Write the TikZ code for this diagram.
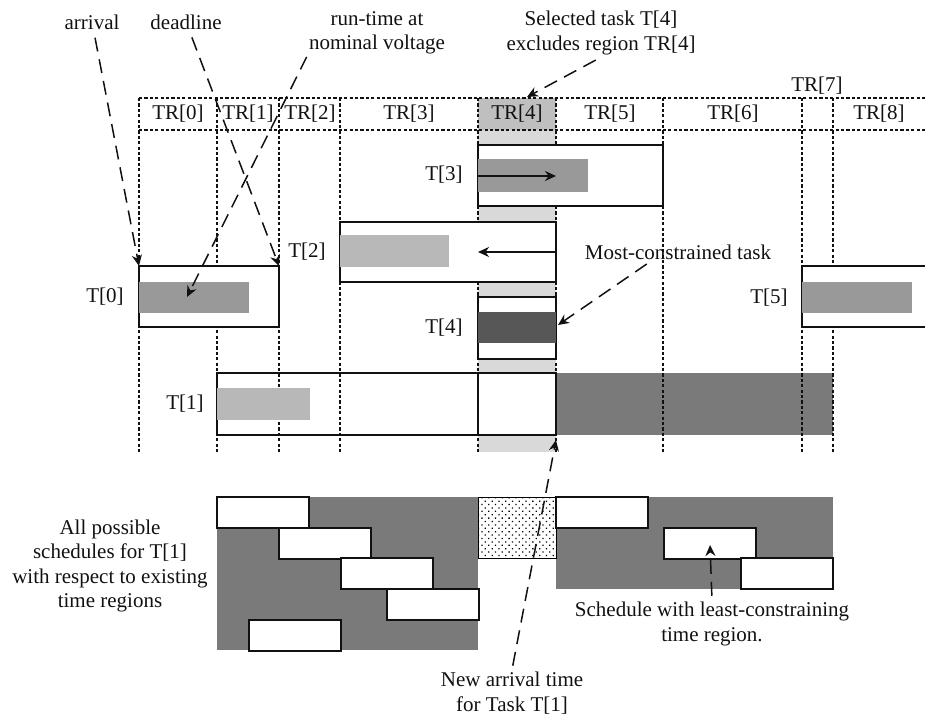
\documentclass[tikz,border=0pt]{standalone}
\usepackage{fontspec}
\setmainfont{Liberation Serif}
\usepackage{tikz}
\usetikzlibrary{positioning,arrows.meta,patterns,patterns.meta}

\definecolor{ink}{HTML}{111111}
\colorlet{barfill}{black!40}
\colorlet{lightbar}{black!28}
\colorlet{busyfill}{black!52}
\colorlet{hotfill}{black!66}
\colorlet{colfill}{black!15}
\colorlet{cellfill}{black!25}

\tikzset{
  every node/.style={font=\fontsize{10.5}{12.3}\selectfont, text=ink},
  % --- grid
  grid/.style    = {draw=ink, line width=0.7pt, dash pattern=on 1.6pt off 1.1pt},
  % --- boxes
  taskbox/.style = {draw=ink, line width=1pt},
  bar/.style     = {fill=barfill},
  pale/.style    = {fill=lightbar},
  busy/.style    = {fill=busyfill},
  slot/.style    = {draw=ink, fill=white, line width=0.8pt},
  % --- labels
  lbl/.style     = {inner sep=1pt},
  note/.style    = {align=center, inner sep=1pt},
  % --- edges
  callout/.style = {-{Stealth[length=5.5pt,width=5pt]}, draw=ink, line width=0.75pt,
                    dash pattern=on 7pt off 4pt},
  run/.style     = {-{Stealth[length=5.5pt,width=5pt]}, draw=ink, line width=0.8pt},
}

\begin{document}
\begin{tikzpicture}[x=0.5pt,y=-0.5pt]
  \useasboundingbox (0,0) rectangle (925,715);

  % excluded region TR[4]
  \fill[colfill] (478,130) rectangle (556,452);
  \fill[cellfill] (478,98) rectangle (556,130);

  % T[1] background and busy part
  \fill[white] (217,373) rectangle (556,435);
  \fill[busy] (556,373) rectangle (833,435);

  % time regions
  \foreach \x in {139,217,279,340,478,556,663,802,833}
    \draw[grid] (\x,98) -- (\x,454);
  \draw[grid] (139,98) -- (925,98) (139,130) -- (925,130);
  \foreach \x/\i in {178/0,248/1,310/2,409/3,517/4,610/5,733/6,879/8}
    \node[lbl] (tr\i) at (\x,114) {TR[\i]};
  \node[lbl] (tr7) at (817,86) {TR[7]};

  % T[3]
  \draw[taskbox, fill=white] (478,145) rectangle (663,206);
  \fill[bar] (478,159) rectangle (588,192);
  \node[lbl, anchor=east] (t3) at (465,175) {T[3]};
  \coordinate (t3from) at (478,176);
  \coordinate (t3to) at (556,176);
  \draw[run] (t3from) -- (t3to);

  % T[2]
  \draw[taskbox, fill=white] (340,222) rectangle (556,282);
  \fill[pale] (340,235) rectangle (449,267);
  \node[lbl, anchor=east] (t2) at (328,252) {T[2]};
  \coordinate (t2from) at (556,252);
  \coordinate (t2to) at (478,252);
  \draw[run] (t2from) -- (t2to);

  % T[0]
  \draw[taskbox, fill=white] (139,266) rectangle (279,327);
  \fill[bar] (139,282) rectangle (249,313);
  \node[lbl, anchor=east] (t0) at (126,297) {T[0]};

  % T[4]
  \draw[taskbox, fill=white] (478,297) rectangle (556,359);
  \fill[hotfill] (478,312) rectangle (556,343);
  \node[lbl, anchor=east] (t4) at (465,328) {T[4]};

  % T[1]
  \draw[taskbox] (217,373) rectangle (556,435);
  \draw[taskbox] (478,373) -- (478,435);
  \fill[pale] (217,388) rectangle (310,420);
  \node[lbl, anchor=east] (t1) at (206,404) {T[1]};

  % T[5]
  \fill[white] (802,266) rectangle (925,327);
  \draw[taskbox] (925,266) -| (802,327) -- (925,327);
  \fill[bar] (802,282) rectangle (912,313);
  \node[lbl, anchor=east] (t5) at (790,298) {T[5]};

  % possible schedules for T[1]
  \fill[busy] (217,497) rectangle (478,650);
  \fill[busy] (556,497) rectangle (833,589);
  \draw[line width=0.5pt, pattern={Dots[distance=2.4pt, angle=45, radius=0.45pt]}]
    (478,497) rectangle (556,558);
  \foreach \a/\b in {217/497,279/528,341/558,387/589,249/620,556/497,664/528,741/558}
    \draw[slot] (\a,\b) rectangle ++(92,31);

  % notes
  \node[note] (arrival) at (92,22) {arrival};
  \node[note] (deadline) at (186,22) {deadline};
  \node[note] (runtime) at (377,33) {run-time at\\nominal voltage};
  \node[note] (selected) at (601,33) {Selected task T[4]\\excludes region TR[4]};
  \node[note] (mostc) at (678,252) {Most-constrained task};
  \node[note] (allsched) at (110,566) {All possible\\schedules for T[1]\\with respect to existing\\time regions};
  \node[note] (leastc) at (712,624) {Schedule with least-constraining\\time region.};
  \node[note] (newarr) at (512,693) {New arrival time\\for Task T[1]};

  \coordinate (t0arr) at (139,266);
  \coordinate (t0dl) at (279,266);
  \coordinate (t0run) at (187,297);
  \coordinate (tr4top) at (527,97);
  \coordinate (t4bar) at (558,325);
  \coordinate (t1new) at (556,440);
  \coordinate (best) at (710,545);

  \draw[callout, shorten <=3pt] (arrival) -- (t0arr);
  \draw[callout, shorten <=3pt] (deadline) -- (t0dl);
  \draw[callout] (runtime.south west) -- (t0run);
  \draw[callout, shorten <=3pt] (selected.south) -- (tr4top);
  \draw[callout, shorten <=2pt] ([xshift=-14pt]mostc.south) -- (t4bar);
  \draw[callout, shorten <=2pt] (leastc.north) -- (best);
  \draw[callout, shorten <=2pt] (newarr.north) -- (t1new);
\end{tikzpicture}
\end{document}
